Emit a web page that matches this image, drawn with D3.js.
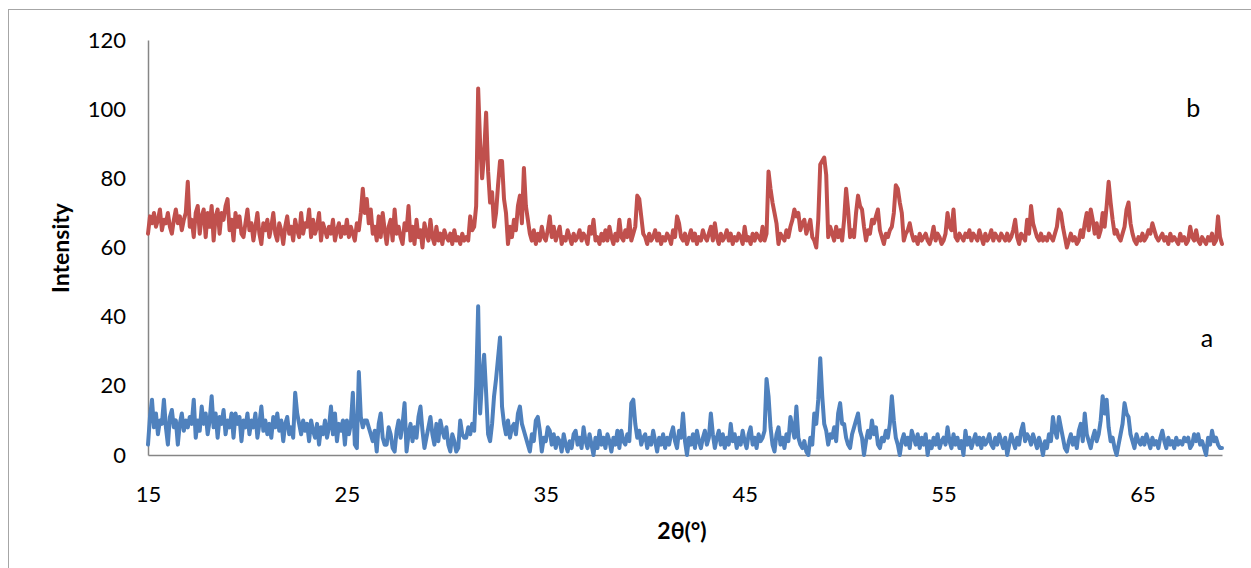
<!DOCTYPE html>
<html>
<head>
<meta charset="utf-8">
<script src="https://cdn.jsdelivr.net/npm/d3@7"></script>
<style>
  body { margin: 0; background: #fff; }
  text { font-family: Lato, "Open Sans", sans-serif; fill: #000; }
</style>
</head>
<body>
<svg id="chart" width="1251" height="568"></svg>
<script>
// 2θ grid of the pattern: 15.0 .. 69.0 in steps of 0.1
const thetaStart = 15;
const thetaStep = 0.1;

const xTicks = [15, 25, 35, 45, 55, 65];
const yTicks = [0, 20, 40, 60, 80, 100, 120];

// sample a (blue), one row per degree (x.0 .. x.9)
const seriesA = [
  3, 11, 16, 8, 12, 6, 10, 9, 16, 8,        // 15
  3, 11, 13, 8, 10, 3, 9, 12, 7, 10,        // 16
  8, 11, 9, 16, 5, 10, 7, 14, 9, 12,        // 17
  6, 10, 17, 8, 12, 5, 11, 9, 13, 6,        // 18
  10, 8, 12, 5, 12, 9, 11, 4, 10, 8,        // 19
  12, 6, 10, 8, 12, 5, 9, 14, 7, 10,        // 20
  6, 9, 5, 11, 8, 12, 7, 10, 4, 9,          // 21
  11, 6, 8, 5, 18, 12, 9, 6, 10, 7,         // 22
  9, 4, 10, 7, 5, 9, 3, 8, 6, 10,           // 23
  5, 8, 14, 6, 12, 4, 9, 7, 10, 3,          // 24
  10, 6, 9, 18, 3, 2, 24, 11, 8, 10,        // 25
  10, 8, 6, 4, 7, 1, 9, 12, 5, 3,           // 26
  3, 8, 6, 2, 1, 7, 10, 5, 9, 15,           // 27
  1, 6, 9, 4, 8, 5, 11, 14, 7, 2,           // 28
  5, 8, 11, 6, 3, 9, 4, 10, 7, 5,           // 29
  8, 3, 1, 6, 4, 1, 2, 10, 6, 5,            // 30
  5, 8, 6, 9, 7, 20, 43, 12, 22, 29,        // 31
  18, 6, 4, 9, 17, 22, 28, 34, 14, 9,       // 32
  6, 10, 5, 8, 9, 6, 12, 14, 9, 7,          // 33
  5, 3, 1, 6, 4, 10, 11, 7, 1, 5,           // 34
  4, 8, 7, 3, 6, 2, 5, 4, 1, 6,             // 35
  3, 1, 4, 2, 6, 7, 3, 5, 2, 8,             // 36
  4, 2, 6, 3, 0, 5, 2, 7, 3, 5,             // 37
  2, 6, 4, 1, 5, 3, 7, 2, 7, 4,             // 38
  3, 6, 4, 15, 16, 9, 5, 7, 3, 5,           // 39
  6, 2, 5, 3, 7, 4, 1, 5, 3, 6,             // 40
  2, 5, 3, 6, 8, 4, 2, 7, 5, 12,            // 41
  4, 0, 5, 3, 6, 2, 7, 4, 2, 5,             // 42
  7, 3, 5, 12, 6, 2, 5, 7, 3, 6,            // 43
  2, 5, 3, 9, 4, 6, 2, 5, 3, 7,             // 44
  4, 2, 6, 8, 3, 5, 2, 6, 4, 5,             // 45
  7, 22, 17, 8, 3, 1, 6, 8, 3, 5,           // 46
  2, 6, 4, 11, 8, 5, 14, 5, 3, 2,           // 47
  4, 1, 0, 5, 3, 12, 9, 16, 28, 17,         // 48
  9, 7, 3, 6, 5, 8, 4, 12, 15, 9,           // 49
  9, 5, 3, 2, 6, 8, 10, 12, 7, 5,           // 50
  0, 4, 7, 5, 10, 6, 8, 3, 2, 5,            // 51
  4, 7, 5, 9, 17, 10, 5, 3, 0, 4,           // 52
  6, 3, 5, 2, 7, 5, 3, 6, 2, 5,             // 53
  3, 6, 0, 4, 2, 5, 3, 6, 2, 4,             // 54
  5, 3, 8, 4, 2, 6, 3, 5, 2, 4,             // 55
  0, 7, 3, 5, 2, 4, 6, 3, 5, 2,             // 56
  5, 3, 4, 6, 3, 2, 5, 3, 6, 4,             // 57
  2, 5, 0, 3, 6, 4, 2, 5, 3, 7,             // 58
  9, 4, 6, 5, 3, 6, 4, 2, 5, 3,             // 59
  0, 4, 2, 6, 4, 11, 7, 5, 11, 8,           // 60
  5, 2, 1, 4, 6, 3, 5, 2, 7, 9,             // 61
  4, 12, 6, 4, 2, 5, 7, 4, 6, 10,           // 62
  17, 12, 16, 8, 4, 5, 2, 0, 3, 6,          // 63
  9, 15, 12, 11, 6, 4, 2, 6, 4, 3,          // 64
  5, 3, 6, 4, 2, 5, 3, 4, 2, 5,             // 65
  7, 4, 2, 5, 3, 4, 2, 5, 3, 4,             // 66
  3, 5, 4, 5, 2, 3, 6, 4, 6, 3,             // 67
  4, 2, 0, 5, 3, 7, 4, 5, 3, 2,             // 68
  2                                         // 69
];

// sample b (red)
const seriesB = [
  64, 69, 67, 70, 66, 68, 71, 65, 68, 67,   // 15
  70, 66, 64, 68, 71, 67, 69, 65, 68, 70,   // 16
  79, 66, 68, 63, 70, 72, 64, 69, 71, 63,   // 17
  70, 66, 72, 62, 69, 71, 64, 70, 68, 72,   // 18
  74, 65, 68, 62, 70, 66, 69, 64, 63, 67,   // 19
  71, 65, 67, 62, 66, 70, 64, 61, 67, 65,   // 20
  68, 63, 66, 70, 64, 62, 67, 65, 61, 66,   // 21
  69, 64, 66, 62, 68, 65, 63, 70, 64, 67,   // 22
  66, 71, 63, 68, 64, 66, 70, 62, 67, 65,   // 23
  63, 66, 64, 68, 62, 65, 67, 63, 66, 64,   // 24
  68, 63, 66, 64, 62, 67, 65, 70, 77, 70,   // 25
  74, 67, 71, 64, 66, 62, 69, 63, 70, 65,   // 26
  61, 66, 68, 62, 71, 64, 66, 63, 61, 67,   // 27
  65, 72, 62, 66, 61, 68, 63, 65, 60, 67,   // 28
  64, 62, 68, 63, 61, 66, 62, 64, 61, 65,   // 29
  63, 62, 64, 61, 65, 62, 63, 61, 64, 62,   // 30
  63, 62, 69, 65, 66, 72, 106, 90, 80, 87,  // 31
  99, 82, 73, 76, 66, 70, 78, 85, 85, 74,   // 32
  70, 61, 66, 63, 68, 65, 72, 75, 67, 83,   // 33
  72, 68, 64, 62, 65, 61, 64, 62, 66, 63,   // 34
  62, 65, 69, 63, 66, 62, 64, 66, 61, 63,   // 35
  62, 65, 63, 61, 64, 62, 63, 65, 62, 64,   // 36
  63, 61, 66, 64, 68, 62, 63, 61, 64, 62,   // 37
  65, 62, 66, 63, 61, 64, 62, 68, 63, 62,   // 38
  65, 63, 68, 62, 64, 66, 75, 74, 69, 64,   // 39
  63, 61, 64, 62, 63, 65, 62, 64, 61, 63,   // 40
  62, 64, 63, 61, 65, 63, 69, 67, 63, 62,   // 41
  64, 61, 63, 65, 62, 64, 61, 63, 62, 65,   // 42
  63, 62, 64, 66, 62, 67, 63, 61, 64, 62,   // 43
  63, 65, 62, 64, 61, 63, 62, 64, 63, 61,   // 44
  66, 62, 63, 61, 64, 62, 64, 63, 62, 66,   // 45
  62, 64, 82, 77, 73, 70, 67, 61, 64, 63,   // 46
  62, 65, 63, 66, 68, 71, 69, 70, 65, 67,   // 47
  68, 64, 66, 68, 63, 62, 60, 68, 84, 85,   // 48
  86, 81, 63, 66, 64, 62, 66, 63, 65, 62,   // 49
  68, 77, 71, 63, 65, 63, 70, 75, 72, 71,   // 50
  66, 62, 65, 64, 68, 67, 69, 71, 65, 63,   // 51
  61, 64, 63, 65, 66, 70, 78, 77, 73, 70,   // 52
  62, 64, 65, 67, 64, 62, 63, 61, 64, 62,   // 53
  63, 64, 62, 61, 63, 66, 62, 64, 63, 61,   // 54
  62, 64, 70, 66, 65, 71, 63, 62, 64, 63,   // 55
  62, 64, 63, 65, 62, 64, 63, 62, 65, 63,   // 56
  61, 64, 62, 63, 65, 62, 64, 63, 62, 64,   // 57
  63, 62, 64, 62, 63, 65, 68, 63, 61, 64,   // 58
  63, 62, 68, 64, 72, 67, 65, 63, 62, 64,   // 59
  62, 63, 62, 64, 63, 62, 64, 66, 71, 70,   // 60
  66, 63, 60, 62, 64, 62, 63, 61, 62, 65,   // 61
  63, 67, 70, 65, 71, 68, 64, 67, 63, 65,   // 62
  70, 66, 72, 79, 73, 68, 64, 65, 63, 62,   // 63
  64, 66, 71, 73, 67, 64, 62, 61, 63, 62,   // 64
  64, 62, 63, 65, 64, 67, 65, 63, 62, 63,   // 65
  64, 62, 63, 61, 64, 62, 63, 62, 61, 64,   // 66
  62, 63, 61, 62, 66, 63, 62, 65, 62, 61,   // 67
  63, 62, 61, 63, 62, 64, 61, 62, 69, 63,   // 68
  61                                        // 69
];

const seriesInfo = [
  { id: "a", values: seriesA, color: "#4F81BD", label: "a", labelAt: [68.25, 34] },
  { id: "b", values: seriesB, color: "#C0504D", label: "b", labelAt: [67.55, 100.5] }
];

const xScale = d3.scaleLinear()
  .domain([15, 69])
  .range([148, 1222]);

const yScale = d3.scaleLinear()
  .domain([0, 120])
  .range([455, 40]);

const svg = d3.select("#chart");

// chart frame (runs off the window on right/bottom)
svg.append("rect")
  .attr("x", 8.5).attr("y", 9.5)
  .attr("width", 1300).attr("height", 620)
  .attr("fill", "none")
  .attr("stroke", "#a6a6a6");

// axes
const leftAxis = d3.axisLeft(yScale)
  .tickValues(yTicks)
  .tickSize(0)
  .tickSizeOuter(0)
  .tickPadding(22);

const gy = svg.append("g")
  .attr("transform", `translate(${xScale(15)}, 0)`)
  .call(leftAxis);

const bottomAxis = d3.axisBottom(xScale)
  .tickValues(xTicks)
  .tickSize(0)
  .tickSizeOuter(0)
  .tickPadding(31);

const gx = svg.append("g")
  .attr("transform", `translate(0, ${yScale(0)})`)
  .call(bottomAxis);

[gx, gy].forEach(g => {
  g.select(".domain").attr("stroke", "#868686").attr("stroke-width", 1.5);
  g.selectAll("text")
    .attr("font-size", 22)
    .attr("font-family", "Lato, 'Open Sans', sans-serif")
    .attr("fill", "#000");
});

// lines
const lineGen = d3.line()
  .x((d, i) => xScale(thetaStart + i * thetaStep))
  .y(d => yScale(d));

seriesInfo.forEach(s => {
  svg.append("path")
    .datum(s.values)
    .attr("class", `line-${s.id}`)
    .attr("fill", "none")
    .attr("stroke", s.color)
    .attr("stroke-width", 4)
    .attr("stroke-linejoin", "round")
    .attr("stroke-linecap", "round")
    .attr("d", lineGen);

  svg.append("text")
    .attr("x", xScale(s.labelAt[0]))
    .attr("y", yScale(s.labelAt[1]))
    .attr("text-anchor", "middle")
    .attr("dominant-baseline", "central")
    .attr("font-size", 25)
    .text(s.label);
});

// axis titles
svg.append("text")
  .attr("transform", "translate(60, 248) rotate(-90)")
  .attr("text-anchor", "middle")
  .attr("dominant-baseline", "central")
  .attr("font-size", 23)
  .attr("font-weight", "bold")
  .text("Intensity");

svg.append("text")
  .attr("x", 682)
  .attr("y", 530)
  .attr("text-anchor", "middle")
  .attr("dominant-baseline", "central")
  .attr("font-size", 23)
  .attr("font-weight", "bold")
  .text("2θ(°)");
</script>
</body>
</html>
